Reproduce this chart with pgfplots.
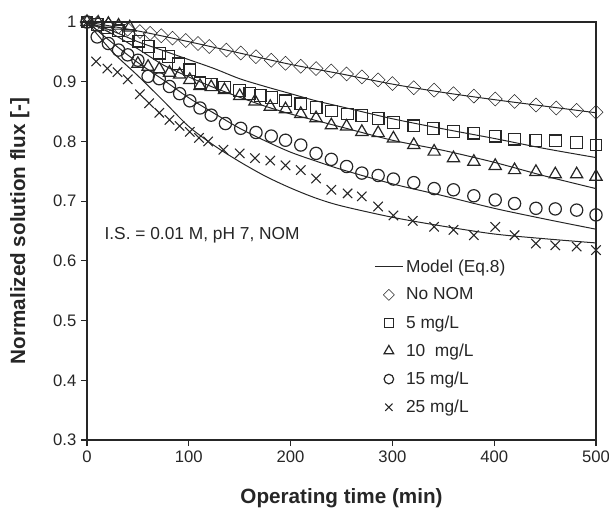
\documentclass[border=0pt]{standalone}
\usepackage{fontspec}
\setmainfont{Liberation Sans}
\usepackage{pgfplots}
\pgfplotsset{compat=1.18}
\definecolor{ink}{gray}{0.15}
\begin{document}
\begin{tikzpicture}
\begin{axis}[
  scale only axis, width=381.75pt, height=313.5pt,
  xmin=0, xmax=500, ymin=0.3, ymax=1,
  clip=false,
  xtick={0,100,200,300,400,500},
  ytick={0.3,0.4,0.5,0.6,0.7,0.8,0.9,1},
  yticklabels={0.3,0.4,0.5,0.6,0.7,0.8,0.9,1},
  xtick pos=bottom, ytick pos=left, tick align=outside,
  major tick length=4.5pt,
  axis line style={line width=0.9pt, color=ink},
  tick style={line width=0.9pt, color=ink},
  /pgf/number format/assume math mode=true,
  ticklabel style={font=\fontsize{12.5}{15}\selectfont, color=ink},
  xlabel={Operating time (min)},
  ylabel={Normalized solution flux [-]},
  label style={font=\fontsize{15.5}{18}\selectfont\bfseries, color=ink},
  xlabel style={yshift=-13pt},
  ylabel style={yshift=11pt},
  legend style={at={(axis cs:282,0.607)}, anchor=north west, draw=none, fill=none,
    font=\fontsize{13}{15}\selectfont, text=ink, row sep=6.2pt, inner sep=0pt},
  legend cell align=left,
  legend image code/.code={\draw[mark repeat=2,mark phase=2,#1,every mark/.append style={scale=0.78}] plot coordinates {(0cm,0cm) (0.37cm,0cm) (0.74cm,0cm)};},
  mk/.style={only marks, color=ink, mark options={solid, fill=white, line width=0.9pt}},
  md/.style={color=ink, line width=0.75pt, smooth, no markers, forget plot},
]
\addlegendimage{color=ink, line width=0.75pt, no markers}
\addlegendentry{Model (Eq.8)}
% model curves
\addplot[md] coordinates {(0,1) (50,0.985) (100,0.967) (150,0.948) (200,0.929) (250,0.913) (300,0.896) (350,0.882) (400,0.870) (450,0.859) (500,0.848)};
\addplot[md] coordinates {(0,1) (25,0.985) (50,0.967) (75,0.952) (100,0.937) (125,0.922) (150,0.905) (175,0.892) (200,0.880) (225,0.868) (250,0.858) (300,0.838) (350,0.821) (400,0.805) (450,0.788) (500,0.773)};
\addplot[md] coordinates {(0,1) (25,0.98) (50,0.955) (75,0.928) (100,0.908) (125,0.890) (150,0.874) (175,0.859) (200,0.846) (225,0.835) (250,0.824) (300,0.802) (350,0.785) (400,0.765) (450,0.742) (500,0.721)};
\addplot[md] coordinates {(0,1) (25,0.965) (50,0.932) (75,0.903) (100,0.873) (125,0.847) (150,0.822) (175,0.801) (200,0.782) (225,0.767) (250,0.753) (300,0.729) (350,0.709) (400,0.688) (450,0.670) (500,0.653)};
\addplot[md] coordinates {(0,1) (25,0.95) (50,0.91) (75,0.868) (100,0.825) (125,0.793) (150,0.766) (175,0.742) (200,0.722) (225,0.705) (250,0.692) (300,0.673) (350,0.658) (400,0.645) (450,0.637) (500,0.63)};
% data
\addplot[mk, mark=square, mark size=3.7pt, mark options={rotate=45}] coordinates {(0,1.0) (10,0.998) (21,0.995) (31,0.992) (40,0.988) (52,0.984) (62,0.981) (73,0.977) (84,0.973) (97,0.969) (109,0.964) (120,0.959) (137,0.953) (151,0.948) (166,0.942) (181,0.936) (195,0.931) (210,0.926) (225,0.922) (240,0.918) (255,0.913) (270,0.908) (286,0.903) (300,0.897) (321,0.890) (341,0.886) (360,0.880) (380,0.876) (401,0.871) (420,0.867) (441,0.861) (461,0.856) (481,0.852) (500,0.849)};
\addlegendentry{No NOM}
\addplot[mk, mark=square, mark size=4.4pt] coordinates {(0,1.0) (10,0.996) (20,0.990) (31,0.985) (41,0.977) (51,0.968) (60,0.959) (71,0.948) (80,0.942) (90,0.930) (101,0.920) (111,0.898) (122,0.895) (135,0.891) (150,0.885) (160,0.880) (170,0.877) (181,0.874) (195,0.868) (210,0.863) (225,0.857) (240,0.851) (256,0.846) (270,0.843) (286,0.838) (301,0.832) (321,0.826) (340,0.822) (360,0.817) (380,0.814) (401,0.809) (420,0.804) (441,0.802) (460,0.801) (481,0.798) (500,0.794)};
\addlegendentry{5 mg/L}
\addplot[mk, mark=triangle, mark size=5.3pt] coordinates {(0,1.0) (11,0.999) (21,0.997) (31,0.994) (42,0.991) (50,0.930) (60,0.925) (71,0.921) (81,0.915) (91,0.912) (101,0.903) (111,0.893) (122,0.891) (135,0.886) (150,0.876) (165,0.867) (180,0.858) (195,0.854) (210,0.846) (225,0.839) (240,0.827) (255,0.825) (270,0.816) (286,0.814) (301,0.805) (321,0.794) (341,0.783) (360,0.772) (380,0.766) (401,0.759) (420,0.752) (441,0.749) (460,0.745) (481,0.745) (500,0.741)};
\addlegendentry{10\ \ mg/L}
\addplot[mk, mark=o, mark size=4.6pt] coordinates {(0,1.0) (10,0.975) (21,0.964) (31,0.953) (40,0.945) (50,0.936) (60,0.909) (71,0.905) (81,0.892) (91,0.880) (101,0.868) (111,0.856) (122,0.844) (136,0.830) (151,0.822) (166,0.815) (181,0.809) (195,0.802) (210,0.794) (225,0.780) (240,0.770) (255,0.758) (270,0.747) (286,0.743) (301,0.737) (321,0.731) (341,0.721) (360,0.719) (380,0.709) (401,0.702) (420,0.696) (441,0.688) (460,0.687) (481,0.685) (500,0.677)};
\addlegendentry{15 mg/L}
\addplot[mk, mark=x, mark size=5pt, mark options={line width=0.8pt}] coordinates {(0,1.0) (9,0.934) (20,0.922) (30,0.916) (40,0.904) (52,0.879) (61,0.864) (71,0.848) (81,0.836) (91,0.826) (101,0.816) (110,0.806) (119,0.800) (134,0.786) (150,0.780) (165,0.772) (180,0.768) (195,0.760) (210,0.752) (225,0.738) (240,0.719) (256,0.713) (270,0.708) (286,0.691) (301,0.676) (320,0.667) (341,0.657) (360,0.652) (380,0.643) (401,0.657) (420,0.643) (441,0.629) (460,0.626) (481,0.624) (500,0.618)};
\addlegendentry{25 mg/L}
\node[anchor=west, font=\fontsize{13}{15}\selectfont, text=ink, inner sep=0pt] at (axis cs:17,0.643) {I.S. = 0.01 M, pH 7, NOM};
% top and right frame lines
\draw[line width=0.9pt, color=ink] (axis cs:0,1) -- (axis cs:500,1) -- (axis cs:500,0.3);
\end{axis}
\pgfresetboundingbox
\path (current axis.south west) ++(-65.25pt,-53.25pt) rectangle ++(456.75pt,383.25pt);
\end{tikzpicture}
\end{document}
